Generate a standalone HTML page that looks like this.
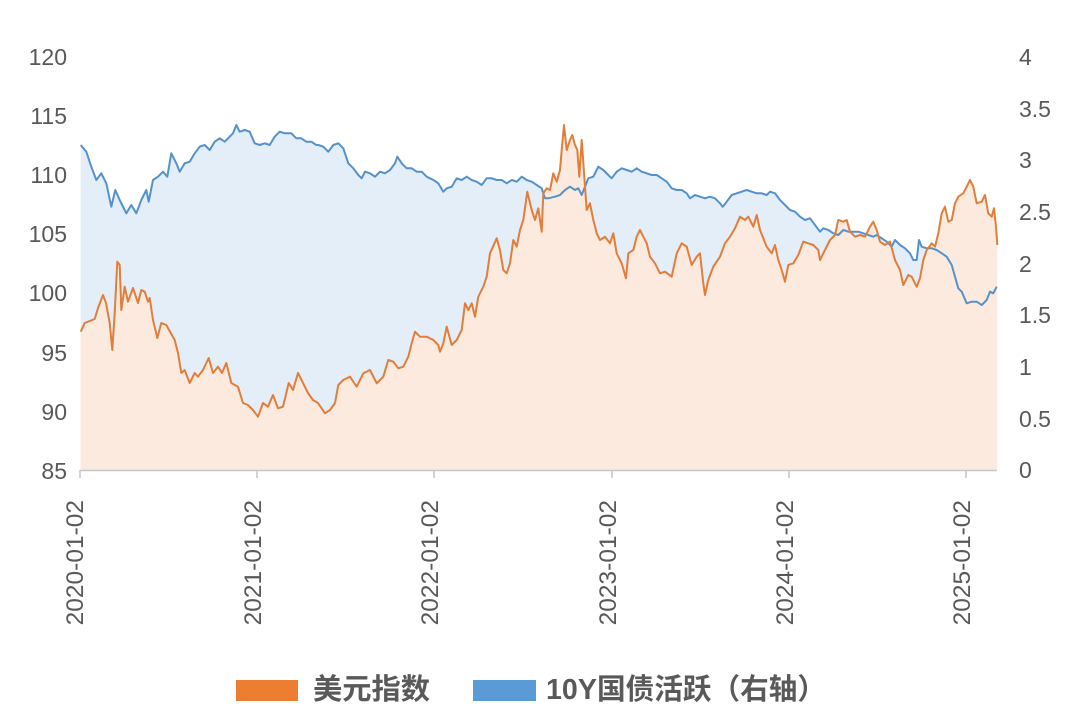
<!DOCTYPE html>
<html>
<head>
<meta charset="utf-8">
<style>
html,body{margin:0;padding:0;background:#fff;}
svg{display:block;}
.ax{font-family:"Liberation Sans","Noto Sans CJK SC",sans-serif;fill:#595959;}
.lg{font-family:"Liberation Sans","Noto Sans CJK SC",sans-serif;fill:#595959;font-weight:bold;}
</style>
</head>
<body>
<svg width="1080" height="724" viewBox="0 0 1080 724" xmlns="http://www.w3.org/2000/svg">
<rect x="0" y="0" width="1080" height="724" fill="#ffffff"/>

<!-- blue fill -->
<polygon fill="#e3eef9" points="80.7,145 86.3,151.7 91.3,166.7 96.3,180 101.3,173.3 106.3,183.3 111.3,206.7 115.3,190 119.7,200 126.3,213.3 131.3,205 136.3,213.3 141.3,200 146.3,190 148.7,201.7 153,180 158,176.7 163,171.7 167.3,176.7 171.3,153.3 176.3,163.3 179.7,171.7 184.7,163.3 189.7,161.7 194.7,153.3 199.7,146.7 204.7,145 209.7,150 214.7,141.7 219.7,138.3 224.7,141.7 229.7,136.7 233,133.3 236.3,125 239.7,131.7 244.7,130 249.7,131.7 254.7,143.3 259.7,145 264.7,143.3 269.7,145 274.7,136.7 279.7,131.7 284.7,133.3 291.3,133.3 296.3,138.3 301.3,138.3 306.3,141.7 311.3,141.7 316.3,145 318.3,145 323.3,146.7 328.3,151.7 333.3,145 338.3,143.3 343.3,148.3 348.3,163.3 353.3,168.3 358.3,175 361.7,178.3 365,171.7 370,173.3 375,176.7 380,171.7 385,173.3 390,170 395,163.3 397.3,156.7 401.7,163.3 406.7,168.3 411.7,168.3 416.7,171.7 421.7,171.7 426.7,176.7 433.3,180 438.3,183.3 443.3,191.7 446.7,188.3 451.7,186.7 456.7,178.3 461.7,180 466.7,176.7 471.7,180 476.7,181.7 481.7,185 486.7,178.3 491.7,178.3 496.7,180 501.7,180 506.7,183.3 511.7,180 516.7,181.7 521.7,176.7 526.7,180 531.7,181.7 536.7,185 541.7,188.3 545,198.3 548.3,198.3 555,196.7 560,195 565,190 570,186.7 575,190 578.3,188.3 581.7,195 585,186.7 588.3,178.3 593.3,176.7 598.3,166.7 603.3,170 608.3,175 611.7,178.3 616.7,171.7 621.7,168.3 626.7,170 631.7,171.7 636.7,168.3 641.7,171.7 646.7,173.3 651.7,175 656.7,175 661.7,178.3 666.7,181.7 671.7,188.3 676.7,190 681.7,190 686.7,193.3 690,198.3 695,195 700,196.7 705,198.3 710,196.7 715,198.3 720,203.3 722.7,206.7 726.7,201.7 731.7,195 736.7,193.3 741.7,191.7 746.7,190 751.7,191.7 756.7,193.3 761.7,193.3 766.7,195 770,191.7 775,193.3 780,200 785,205 790,210 795,211.7 800,216.7 805,220 810,218.3 815,225 820,231.7 823.3,228.3 828.3,230 833.3,233.3 838.3,235 843.3,230 848.3,231.7 853.3,231.7 858.3,231.7 863.3,233.3 868.3,235 873.3,236.7 876.7,235 881.7,238.3 886.7,241.7 891.7,246.7 895,240 900,245 905,248.3 910,253.3 913.3,260 916.7,260 919,240 921.7,246.7 926.7,248.3 931.7,248.3 936.7,250 941.7,253.3 946.7,256.7 951.7,265 955,276.7 958.3,288.3 961.7,291.7 966.7,303.3 971.7,301.7 976.7,301.7 981.7,305 986.7,300 990,291.7 993.3,293.3 996.7,286.7 996.7,470 80.7,470"/>

<!-- orange fill -->
<polygon fill="#fdeadf" points="80.7,331.7 84.7,323 94.7,319 98,308 103,295 106,303 109.7,323 112.3,350 114.7,313 117.3,261.7 119.7,265 121.3,310 124.7,286.7 128,301.7 133,288 138,303 141.3,290 144.7,291.7 148,301.7 149.7,298 153,320 157.3,338 161.3,323 166.3,325 174.7,340 178,353 181.3,373 184.7,370 189.7,383 194.7,373 198,376.7 203,370 208.7,358 213,373 218,366.7 222,373 226.3,363 231.3,383 238,386.7 243,403 248,405 253,410 258,416.7 263,403 268,406.7 273,395 278,408.3 283,406.7 288.7,383 293,390 298,373 303,383 308,393 313,400 318,403 325,413.3 330,410 335,403 338.3,385 343.3,380 350,376.7 356.7,386.7 363.3,373.3 370,370 376.7,383.3 383.3,376.7 388.3,360 393.3,361.7 398.3,368.3 403.3,366.7 408.3,356.7 411.7,343.3 415,331.7 420,336.7 426.7,336.7 433.3,340 438.3,345 440,351.7 443.3,343.3 446.7,326.7 451.7,345 456.7,340 461.7,330 465,303.3 468.3,310 471.7,303.3 475,316.7 478.3,296.7 483.3,286.7 486.7,276.7 490,253.3 496.7,238.3 500,250 503.3,270 506.7,273.3 510,263.3 513.3,240 516.7,246.7 520,230 523.3,220 527.3,191.7 531.7,210 535,220 538.3,208.3 541.7,231.7 543.3,193.3 546.7,188.3 550,190 553.3,173.3 556.7,181.7 560,170 561.7,150 564,125 566.7,150 570,140 572.3,135 575,145 577.3,150 579.3,176.7 581.7,140 584.3,176.7 586.7,210 590,203.3 593.3,220 596.7,233.3 600,240 605,236.7 610,243.3 613.3,233.3 616.7,253.3 621.7,263.3 626,278.3 628.3,253.3 633.3,250 636.7,236.7 640,230 643.3,236.7 646.7,243.3 650,256.7 655,263.3 660,273.3 665,271.7 671.7,276.7 676.7,253.3 681.7,243.3 686.7,246.7 691.7,265 696.7,256.7 700,253.3 703.3,283.3 705,295 708.3,280 713.3,266.7 720,256.7 725,243.3 730,236.7 735,228.3 740,216.7 745,220 748.3,216.7 753.3,226.7 756.7,215 760,230 766.7,246.7 771.7,253.3 775,245 778.3,260 781.7,270 785,281.7 788.3,265 793.3,263.3 798.3,255 803.3,241.7 808.3,243.3 813.3,245 818.3,250 820,260 825,250 830,240 835,235 838.3,220 843.3,221.7 846.7,220 850,231.7 855,236.7 860,235 865,236.7 870,226.7 873.3,221.7 876.7,230 880,241.7 885,245 890,241.7 895,260 900,270 903.3,285 908.3,275 911.7,276.7 916.7,286.7 920,278.3 923.3,260 926.7,250 931.7,243.3 935,246.7 938.3,233.3 941.7,213.3 945,206.7 948.3,221.7 951.7,220 955,203.3 958.3,196.7 963.3,193.3 966.7,186.7 970,180 973.3,186.7 976.7,203.3 981.7,201.7 985,195 988.3,213.3 991.7,216.7 994,208.3 996,226.7 997.3,245 997.3,470 80.7,470"/>

<!-- blue line -->
<polyline fill="none" stroke="#5592cc" stroke-width="2" stroke-linejoin="round" points="80.7,145 86.3,151.7 91.3,166.7 96.3,180 101.3,173.3 106.3,183.3 111.3,206.7 115.3,190 119.7,200 126.3,213.3 131.3,205 136.3,213.3 141.3,200 146.3,190 148.7,201.7 153,180 158,176.7 163,171.7 167.3,176.7 171.3,153.3 176.3,163.3 179.7,171.7 184.7,163.3 189.7,161.7 194.7,153.3 199.7,146.7 204.7,145 209.7,150 214.7,141.7 219.7,138.3 224.7,141.7 229.7,136.7 233,133.3 236.3,125 239.7,131.7 244.7,130 249.7,131.7 254.7,143.3 259.7,145 264.7,143.3 269.7,145 274.7,136.7 279.7,131.7 284.7,133.3 291.3,133.3 296.3,138.3 301.3,138.3 306.3,141.7 311.3,141.7 316.3,145 318.3,145 323.3,146.7 328.3,151.7 333.3,145 338.3,143.3 343.3,148.3 348.3,163.3 353.3,168.3 358.3,175 361.7,178.3 365,171.7 370,173.3 375,176.7 380,171.7 385,173.3 390,170 395,163.3 397.3,156.7 401.7,163.3 406.7,168.3 411.7,168.3 416.7,171.7 421.7,171.7 426.7,176.7 433.3,180 438.3,183.3 443.3,191.7 446.7,188.3 451.7,186.7 456.7,178.3 461.7,180 466.7,176.7 471.7,180 476.7,181.7 481.7,185 486.7,178.3 491.7,178.3 496.7,180 501.7,180 506.7,183.3 511.7,180 516.7,181.7 521.7,176.7 526.7,180 531.7,181.7 536.7,185 541.7,188.3 545,198.3 548.3,198.3 555,196.7 560,195 565,190 570,186.7 575,190 578.3,188.3 581.7,195 585,186.7 588.3,178.3 593.3,176.7 598.3,166.7 603.3,170 608.3,175 611.7,178.3 616.7,171.7 621.7,168.3 626.7,170 631.7,171.7 636.7,168.3 641.7,171.7 646.7,173.3 651.7,175 656.7,175 661.7,178.3 666.7,181.7 671.7,188.3 676.7,190 681.7,190 686.7,193.3 690,198.3 695,195 700,196.7 705,198.3 710,196.7 715,198.3 720,203.3 722.7,206.7 726.7,201.7 731.7,195 736.7,193.3 741.7,191.7 746.7,190 751.7,191.7 756.7,193.3 761.7,193.3 766.7,195 770,191.7 775,193.3 780,200 785,205 790,210 795,211.7 800,216.7 805,220 810,218.3 815,225 820,231.7 823.3,228.3 828.3,230 833.3,233.3 838.3,235 843.3,230 848.3,231.7 853.3,231.7 858.3,231.7 863.3,233.3 868.3,235 873.3,236.7 876.7,235 881.7,238.3 886.7,241.7 891.7,246.7 895,240 900,245 905,248.3 910,253.3 913.3,260 916.7,260 919,240 921.7,246.7 926.7,248.3 931.7,248.3 936.7,250 941.7,253.3 946.7,256.7 951.7,265 955,276.7 958.3,288.3 961.7,291.7 966.7,303.3 971.7,301.7 976.7,301.7 981.7,305 986.7,300 990,291.7 993.3,293.3 996.7,286.7"/>

<!-- orange line -->
<polyline fill="none" stroke="#e27d3a" stroke-width="2" stroke-linejoin="round" points="80.7,331.7 84.7,323 94.7,319 98,308 103,295 106,303 109.7,323 112.3,350 114.7,313 117.3,261.7 119.7,265 121.3,310 124.7,286.7 128,301.7 133,288 138,303 141.3,290 144.7,291.7 148,301.7 149.7,298 153,320 157.3,338 161.3,323 166.3,325 174.7,340 178,353 181.3,373 184.7,370 189.7,383 194.7,373 198,376.7 203,370 208.7,358 213,373 218,366.7 222,373 226.3,363 231.3,383 238,386.7 243,403 248,405 253,410 258,416.7 263,403 268,406.7 273,395 278,408.3 283,406.7 288.7,383 293,390 298,373 303,383 308,393 313,400 318,403 325,413.3 330,410 335,403 338.3,385 343.3,380 350,376.7 356.7,386.7 363.3,373.3 370,370 376.7,383.3 383.3,376.7 388.3,360 393.3,361.7 398.3,368.3 403.3,366.7 408.3,356.7 411.7,343.3 415,331.7 420,336.7 426.7,336.7 433.3,340 438.3,345 440,351.7 443.3,343.3 446.7,326.7 451.7,345 456.7,340 461.7,330 465,303.3 468.3,310 471.7,303.3 475,316.7 478.3,296.7 483.3,286.7 486.7,276.7 490,253.3 496.7,238.3 500,250 503.3,270 506.7,273.3 510,263.3 513.3,240 516.7,246.7 520,230 523.3,220 527.3,191.7 531.7,210 535,220 538.3,208.3 541.7,231.7 543.3,193.3 546.7,188.3 550,190 553.3,173.3 556.7,181.7 560,170 561.7,150 564,125 566.7,150 570,140 572.3,135 575,145 577.3,150 579.3,176.7 581.7,140 584.3,176.7 586.7,210 590,203.3 593.3,220 596.7,233.3 600,240 605,236.7 610,243.3 613.3,233.3 616.7,253.3 621.7,263.3 626,278.3 628.3,253.3 633.3,250 636.7,236.7 640,230 643.3,236.7 646.7,243.3 650,256.7 655,263.3 660,273.3 665,271.7 671.7,276.7 676.7,253.3 681.7,243.3 686.7,246.7 691.7,265 696.7,256.7 700,253.3 703.3,283.3 705,295 708.3,280 713.3,266.7 720,256.7 725,243.3 730,236.7 735,228.3 740,216.7 745,220 748.3,216.7 753.3,226.7 756.7,215 760,230 766.7,246.7 771.7,253.3 775,245 778.3,260 781.7,270 785,281.7 788.3,265 793.3,263.3 798.3,255 803.3,241.7 808.3,243.3 813.3,245 818.3,250 820,260 825,250 830,240 835,235 838.3,220 843.3,221.7 846.7,220 850,231.7 855,236.7 860,235 865,236.7 870,226.7 873.3,221.7 876.7,230 880,241.7 885,245 890,241.7 895,260 900,270 903.3,285 908.3,275 911.7,276.7 916.7,286.7 920,278.3 923.3,260 926.7,250 931.7,243.3 935,246.7 938.3,233.3 941.7,213.3 945,206.7 948.3,221.7 951.7,220 955,203.3 958.3,196.7 963.3,193.3 966.7,186.7 970,180 973.3,186.7 976.7,203.3 981.7,201.7 985,195 988.3,213.3 991.7,216.7 994,208.3 996,226.7 997.3,245"/>

<!-- x axis -->
<line x1="80" y1="470.5" x2="997" y2="470.5" stroke="#c6c6c6" stroke-width="1.5"/>
<g stroke="#c6c6c6" stroke-width="1.5">
<line x1="80" y1="470" x2="80" y2="478"/>
<line x1="257" y1="470" x2="257" y2="478"/>
<line x1="434" y1="470" x2="434" y2="478"/>
<line x1="612" y1="470" x2="612" y2="478"/>
<line x1="789" y1="470" x2="789" y2="478"/>
<line x1="966" y1="470" x2="966" y2="478"/>
</g>

<!-- left y labels -->
<g class="ax" font-size="23" text-anchor="end">
<text x="67" y="65">120</text>
<text x="67" y="124">115</text>
<text x="67" y="183">110</text>
<text x="67" y="242">105</text>
<text x="67" y="301">100</text>
<text x="67" y="361">95</text>
<text x="67" y="420">90</text>
<text x="67" y="479">85</text>
</g>

<!-- right y labels -->
<g class="ax" font-size="23" text-anchor="start">
<text x="1019" y="65">4</text>
<text x="1019" y="117">3.5</text>
<text x="1019" y="168">3</text>
<text x="1019" y="220">2.5</text>
<text x="1019" y="272">2</text>
<text x="1019" y="323">1.5</text>
<text x="1019" y="375">1</text>
<text x="1019" y="427">0.5</text>
<text x="1019" y="478">0</text>
</g>

<!-- x labels -->
<g class="ax" font-size="24.5" text-anchor="end">
<text transform="translate(83,500) rotate(-90)">2020-01-02</text>
<text transform="translate(261,500) rotate(-90)">2021-01-02</text>
<text transform="translate(438,500) rotate(-90)">2022-01-02</text>
<text transform="translate(616,500) rotate(-90)">2023-01-02</text>
<text transform="translate(793,500) rotate(-90)">2024-01-02</text>
<text transform="translate(970,500) rotate(-90)">2025-01-02</text>
</g>

<!-- legend -->
<rect x="236" y="680" width="62" height="21" fill="#ed7d31"/>
<text class="lg" x="313" y="699" font-size="29" textLength="117" lengthAdjust="spacingAndGlyphs">美元指数</text>
<rect x="473" y="680" width="63" height="21" fill="#5b9bd5"/>
<text class="lg" x="546" y="699" font-size="29" textLength="280" lengthAdjust="spacingAndGlyphs">10Y国债活跃（右轴）</text>
</svg>
</body>
</html>
